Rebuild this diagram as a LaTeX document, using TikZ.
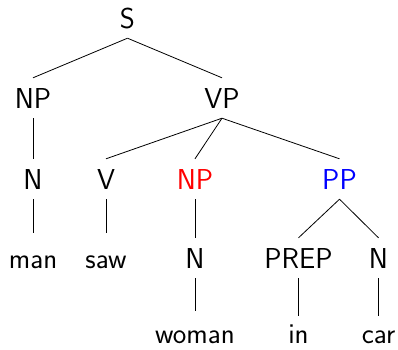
\documentclass[tikz,border=0pt]{standalone}
\usepackage{fontspec}
\begin{document}
\begin{tikzpicture}[x=1pt,y=1pt,
  lbl/.style={font=\fontsize{28.8}{34}\selectfont\sffamily, text height=20pt,
              text depth=0pt, inner xsep=0pt, inner ysep=10pt, anchor=base},
  leaf/.style={lbl, text height=26pt, inner ysep=1pt},
  edge/.style={line width=0.8pt},
  low/.style={shorten >=5pt}]
\useasboundingbox (0,0) rectangle (398,-349);
% level 0
\node[lbl] (S) at (127.5,-28) {S};
% level 1
\node[lbl] (NP) at (33,-108) {NP};
\node[lbl] (VP) at (222,-108) {VP};
% level 2
\node[lbl] (N1) at (33,-189) {N};
\node[lbl] (V) at (106,-189) {V};
\node[lbl, text=red] (NP2) at (195,-189) {NP};
\node[lbl, text=blue] (PP) at (339.5,-189) {PP};
% level 3
\node[lbl] (man) at (33,-268) {man};
\node[lbl] (saw) at (106,-268) {saw};
\node[lbl] (N2) at (195,-268) {N};
\node[lbl] (PREP) at (298.5,-268) {PREP};
\node[lbl] (N3) at (378.5,-268) {N};
% level 4
\node[leaf] (woman) at (195,-343) {woman};
\node[leaf] (in) at (298.5,-343) {in};
\node[leaf] (car) at (378.5,-343) {car};
% branches
\draw[edge] (S.south) -- (NP.north);
\draw[edge] (S.south) -- (VP.north);
\draw[edge] (NP.south) -- (N1.north);
\draw[edge] (VP.south) -- (V.north);
\draw[edge] (VP.south) -- (NP2.north);
\draw[edge] (VP.south) -- (PP.north);
\draw[edge, low] (N1.south) -- (man.north);
\draw[edge, low] (V.south) -- (saw.north);
\draw[edge] (NP2.south) -- (N2.north);
\draw[edge] (PP.south) -- (PREP.north);
\draw[edge] (PP.south) -- (N3.north);
\draw[edge, low] (N2.south) -- (woman.north);
\draw[edge] (PREP.south) -- (in.north);
\draw[edge] (N3.south) -- (car.north);
\end{tikzpicture}
\end{document}
